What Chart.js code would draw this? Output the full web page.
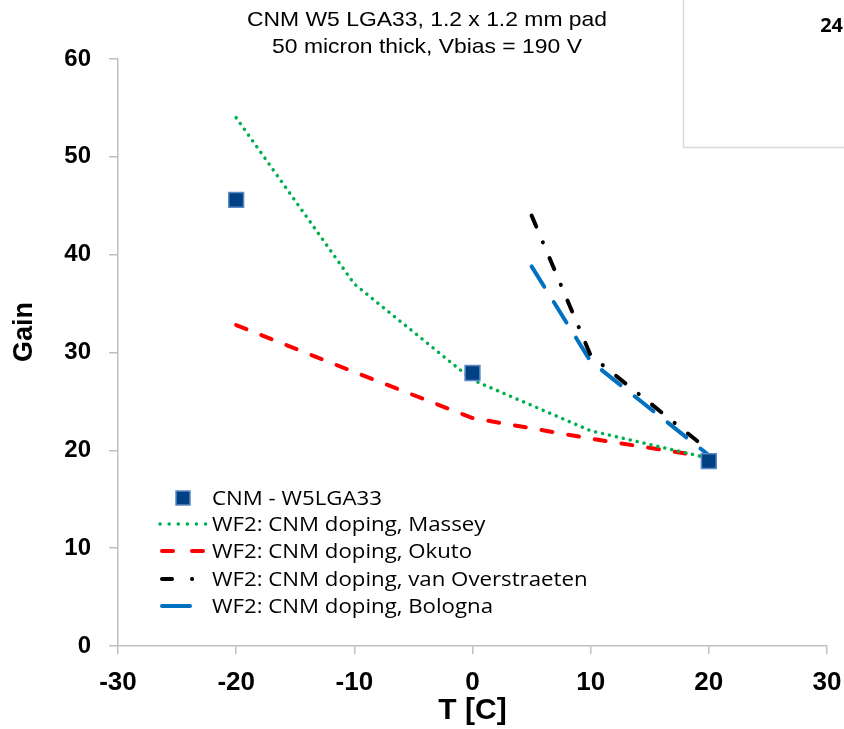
<!DOCTYPE html>
<html>
<head>
<meta charset="utf-8">
<script src="https://cdn.jsdelivr.net/npm/chart.js@4/dist/chart.umd.min.js"></script>
<style>
html,body{margin:0;padding:0;background:#fff;}
#wrap{width:844px;height:729px;position:relative;}
</style>
</head>
<body>
<div id="wrap"><canvas id="c" width="844" height="729"></canvas></div>
<script>
// ---- data ----
const titleLines = ['CNM W5 LGA33, 1.2 x 1.2 mm pad', '50 micron thick, Vbias = 190 V'];
const xTitle = 'T [C]';
const yTitle = 'Gain';
const seriesNames = ['CNM - W5LGA33', 'WF2: CNM doping, Massey', 'WF2: CNM doping, Okuto', 'WF2: CNM doping, van Overstraeten', 'WF2: CNM doping, Bologna'];
const cnmT = [-20, 0, 20];
const cnmGain = [45.6, 27.9, 18.9];
const masseyT = [-20, -10, 0, 10, 20];
const masseyGain = [54.0, 37.0, 27.2, 22.0, 19.2];
const okutoT = [-20, -10, 0, 10, 20];
const okutoGain = [32.8, 28.0, 23.3, 21.2, 19.3];
const vanT = [5, 10, 20];
const vanGain = [44.0, 29.7, 20.0];
const bolT = [5, 10, 20];
const bolGain = [38.8, 29.1, 19.5];
const pageNumber = '24';

const pts = (xs, ys) => xs.map((x, i) => ({x: x, y: ys[i]}));

const W = 844, H = 729;
const AREA = {left: 118, right: 827, top: 59, bottom: 646};

function stretchedText(ctx, text, x, y, sx) {
  ctx.save();
  ctx.translate(x, y);
  ctx.scale(sx, 1);
  ctx.fillText(text, 0, 0);
  ctx.restore();
}

const bgPlugin = {
  id: 'bg',
  beforeDraw(chart) {
    const ctx = chart.ctx;
    ctx.save();
    ctx.fillStyle = '#fff';
    ctx.fillRect(0, 0, W, H);
    // page box top-right
    ctx.strokeStyle = '#d9d9d9';
    ctx.lineWidth = 1.5;
    ctx.beginPath();
    ctx.moveTo(683.5, -2);
    ctx.lineTo(683.5, 147.5);
    ctx.lineTo(W + 2, 147.5);
    ctx.stroke();
    ctx.fillStyle = '#000';
    ctx.font = 'bold 20px "Open Sans", "Liberation Sans", sans-serif';
    ctx.textAlign = 'right';
    ctx.textBaseline = 'middle';
    ctx.fillText(pageNumber, 843, 26);
    // title
    ctx.font = '21px "Liberation Sans", Arial, sans-serif';
    ctx.textAlign = 'center';
    stretchedText(ctx, titleLines[0], 427, 20, 1.09);
    stretchedText(ctx, titleLines[1], 427, 47, 1.09);
    // y axis title
    ctx.save();
    ctx.translate(25, 332);
    ctx.rotate(-Math.PI / 2);
    ctx.font = 'bold 27px "Liberation Sans", Arial, sans-serif';
    ctx.textAlign = 'center';
    ctx.textBaseline = 'middle';
    ctx.fillText(yTitle, 0, 0);
    ctx.restore();
    ctx.restore();
  }
};

const legendPlugin = {
  id: 'customLegend',
  afterDraw(chart) {
    const ctx = chart.ctx;
    const rows = [498, 524, 551, 579, 606];
    ctx.save();
    ctx.font = '19.5px "Open Sans", "Noto Sans", sans-serif';
    ctx.textAlign = 'left';
    ctx.textBaseline = 'middle';
    chart.data.datasets.forEach((ds, i) => {
      const y = rows[i];
      if (i === 0) {
        ctx.fillStyle = ds.backgroundColor;
        ctx.strokeStyle = ds.borderColor;
        ctx.lineWidth = 1.5;
        ctx.fillRect(176, y - 7, 14, 14);
        ctx.strokeRect(176, y - 7, 14, 14);
      } else {
        ctx.strokeStyle = ds.borderColor;
        ctx.lineWidth = ds.borderWidth;
        ctx.lineCap = 'round';
        ctx.setLineDash(ds.legendDash);
        ctx.beginPath();
        ctx.moveTo(ds.legendX[0], y);
        ctx.lineTo(ds.legendX[1], y);
        ctx.stroke();
        ctx.setLineDash([]);
      }
      ctx.fillStyle = '#000';
      stretchedText(ctx, ds.label, 212, y + 1, 1.14);
    });
    ctx.restore();
  }
};

new Chart(document.getElementById('c'), {
  type: 'scatter',
  data: {
    datasets: [
      {
        label: seriesNames[0],
        data: pts(cnmT, cnmGain),
        showLine: false,
        pointStyle: 'rect',
        pointRadius: 10.5,
        backgroundColor: '#004185',
        borderColor: '#5b8ac2',
        borderWidth: 1.5
      },
      {
        label: seriesNames[1],
        data: pts(masseyT, masseyGain),
        showLine: true,
        pointRadius: 0,
        borderColor: '#00b050',
        borderWidth: 3.5,
        borderDash: [0.1, 7],
        borderCapStyle: 'round',
        legendDash: [0.1, 9],
        legendX: [160, 206]
      },
      {
        label: seriesNames[2],
        data: pts(okutoT, okutoGain),
        showLine: true,
        pointRadius: 0,
        borderColor: '#ff0000',
        borderWidth: 4,
        borderDash: [11, 16],
        borderCapStyle: 'round',
        legendDash: [11, 19],
        legendX: [162, 203]
      },
      {
        label: seriesNames[3],
        data: pts(vanT, vanGain),
        showLine: true,
        pointRadius: 0,
        borderColor: '#000000',
        borderWidth: 4,
        borderDash: [12, 17, 0.1, 17],
        borderCapStyle: 'round',
        legendDash: [10, 20, 0.1, 40],
        legendX: [162, 200]
      },
      {
        label: seriesNames[4],
        data: pts(bolT, bolGain),
        showLine: true,
        pointRadius: 0,
        borderColor: '#0070c0',
        borderWidth: 4,
        borderDash: [24, 18],
        borderCapStyle: 'round',
        legendDash: [],
        legendX: [162, 190]
      }
    ]
  },
  options: {
    responsive: false,
    animation: false,
    devicePixelRatio: 1,
    layout: {padding: {left: 0, top: AREA.top, right: W - AREA.right, bottom: 0}},
    plugins: {
      legend: {display: false},
      tooltip: {enabled: false},
      title: {display: false}
    },
    scales: {
      x: {
        type: 'linear',
        min: -30, max: 30,
        afterFit(s) { s.height = H - AREA.bottom; s.paddingLeft = 0; s.paddingRight = 0; },
        border: {display: true, color: '#bfbfbf', width: 1.5},
        grid: {display: true, drawOnChartArea: false, drawTicks: true, tickLength: 8, color: '#bfbfbf', lineWidth: 1.5},
        ticks: {stepSize: 10, padding: 13, color: '#000', font: {family: '"Liberation Sans", Arial, sans-serif', size: 26, weight: 'bold'}},
        title: {display: true, text: xTitle, color: '#000', padding: {top: 0, bottom: 0}, font: {family: '"Liberation Sans", Arial, sans-serif', size: 30, weight: 'bold'}}
      },
      y: {
        type: 'linear',
        min: 0, max: 60,
        afterFit(s) { s.width = AREA.left; s.paddingTop = 0; s.paddingBottom = 0; },
        border: {display: true, color: '#bfbfbf', width: 1.5},
        grid: {display: true, drawOnChartArea: false, drawTicks: true, tickLength: 9, color: '#bfbfbf', lineWidth: 1.5},
        ticks: {stepSize: 10, padding: 18, color: '#000', font: {family: '"Liberation Sans", Arial, sans-serif', size: 24, weight: 'bold'}},
        title: {display: false}
      }
    }
  },
  plugins: [bgPlugin, legendPlugin]
});
</script>
</body>
</html>
